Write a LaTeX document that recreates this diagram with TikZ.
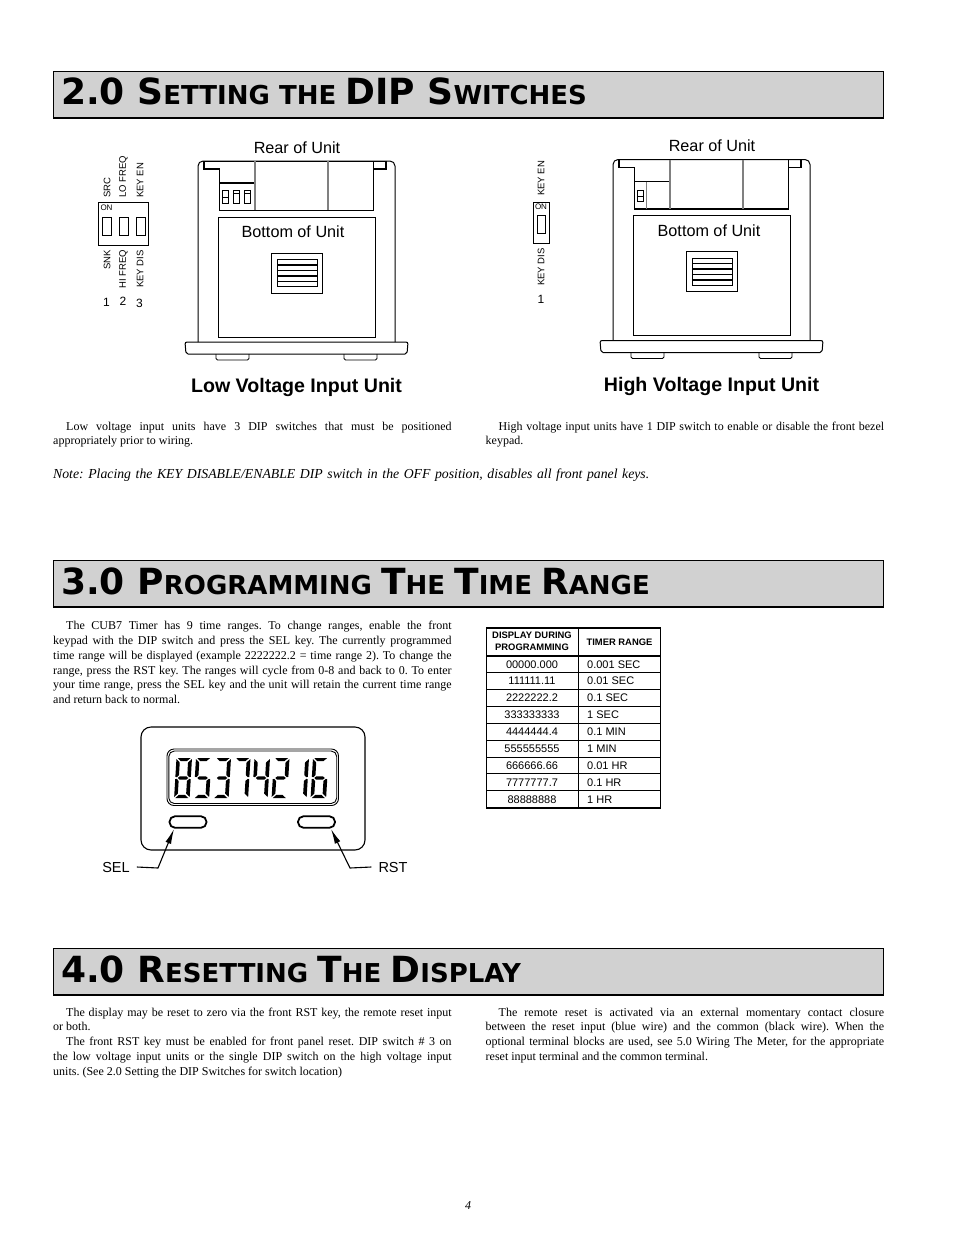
\documentclass[tikz,border=0pt]{standalone}
\usepackage{fontspec}
\setmainfont{Liberation Serif}
\newfontfamily\arialfont{Liberation Sans}
\newfontfamily\headfont{DejaVu Sans}
\usetikzlibrary{arrows.meta}
\definecolor{bargray}{gray}{0.82}
\frenchspacing
\tikzstyle{bodytext}=[anchor=north west,inner sep=0pt,text width=398.5pt,align=justify,font=\fontsize{12}{14.8}\selectfont]
\tikzstyle{headbar}=[draw=black,line width=1.6pt,fill=bargray]
\tikzstyle{headtext}=[anchor=base west,inner sep=0pt,font=\headfont\bfseries]
\tikzstyle{sans}=[inner sep=0pt,font=\arialfont\fontsize{16.2}{18}\selectfont]
\tikzstyle{keylabel}=[inner sep=0pt,font=\arialfont\fontsize{14.5}{16}\selectfont]
\tikzstyle{tiny}=[inner sep=0pt,font=\arialfont\fontsize{9.5}{10}\selectfont]
\tikzstyle{onmark}=[inner sep=0pt,font=\arialfont\fontsize{8}{9}\selectfont]
\tikzstyle{unittitle}=[inner sep=0pt,font=\arialfont\bfseries\fontsize{19.6}{21}\selectfont]
\tikzstyle{cell}=[inner sep=0pt,font=\arialfont\fontsize{11}{12}\selectfont]
\tikzstyle{headcell}=[inner sep=0pt,align=center,font=\arialfont\bfseries\fontsize{9.4}{12}\selectfont]
\tikzstyle{button}=[draw=black,line width=1.8pt,rounded corners=5.5pt,minimum width=37pt,minimum height=11.5pt,inner sep=0pt]
\tikzstyle{pointer}=[draw=black,line width=1.1pt,-{Latex[length=15pt,width=6pt]}]
\newcommand{\bigc}[1]{{\fontsize{36}{36}\selectfont #1}}
\newcommand{\smallc}[1]{{\fontsize{26}{26}\selectfont #1}}
% segments of one display digit
\newcommand{\sega}{(1.8,0) -- (14.7,0) -- (11,3.2) -- (5,3.2) -- cycle}
\newcommand{\segb}{(16,1) -- (16,18.8) -- (14.5,19.2) -- (12.3,17) -- (12.3,4.5) -- cycle}
\newcommand{\segc}{(16,21.2) -- (16,39) -- (12.3,35.5) -- (12.3,23) -- (14.5,20.8) -- cycle}
\newcommand{\segd}{(1.8,40) -- (5,36.8) -- (11,36.8) -- (14.7,40) -- cycle}
\newcommand{\sege}{(0.5,21.2) -- (2,20.8) -- (4,23) -- (4,35.5) -- (0.5,39) -- cycle}
\newcommand{\segf}{(0.5,1) -- (4,4.5) -- (4,17) -- (2,19.2) -- (0.5,18.8) -- cycle}
\newcommand{\segg}{(3,20) -- (5,18.3) -- (11.5,18.3) -- (13.5,20) -- (11.5,21.7) -- (5,21.7) -- cycle}
\begin{document}
\begin{tikzpicture}[x=1pt,y=-1pt]
    \useasboundingbox (0,0) rectangle (954,1235);

    % Section bars
    \foreach \top/\name in {71.5/two,560.5/three,948.5/four}
        \path[headbar] (53.5,\top) rectangle (883.5,\top+46.5);
    \node[headtext] (headtwo) at (61,104) {\bigc{2.0 S}\smallc{ETTING THE }\bigc{DIP S}\smallc{WITCHES}};
    \node[headtext] (headthree) at (61,594) {\bigc{3.0 P}\smallc{ROGRAMMING }\bigc{T}\smallc{HE }\bigc{T}\smallc{IME }\bigc{R}\smallc{ANGE}};
    \node[headtext] (headfour) at (61,982) {\bigc{4.0 R}\smallc{ESETTING }\bigc{T}\smallc{HE }\bigc{D}\smallc{ISPLAY}};

    % Both units, the second is only shifted
    \foreach \ox/\oy/\name in {0/0/low,415/-1.5/high} {
      \begin{scope}[shift={(\ox,\oy)}]
        \draw[line width=1pt,rounded corners=5pt] (198,342) -- (198,161) -- (395,161) -- (395,342);
        \draw[line width=1pt,rounded corners=2pt] (185,342) -- (186,354) -- (407,354) -- (408,342) -- cycle;
        \draw[line width=0.9pt,rounded corners=1.5pt] (216,354) -- (216,360) -- (249,360) -- (249,354);
        \draw[line width=0.9pt,rounded corners=1.5pt] (344,354) -- (344,360) -- (377,360) -- (377,354);
        % rear terminals
        \draw[line width=1.3pt] (204,161) -- (204,169) -- (219.5,169) -- (219.5,210.5) -- (373.5,210.5) -- (373.5,161);
        \draw[line width=1.3pt] (373.5,169) -- (386,169) -- (386,161);
        \draw[line width=0.9pt] (204,161) -- (386,161);
        \draw[line width=1.3pt] (219.5,183) -- (254,183);
        \draw[gray,line width=2pt] (254.5,161) -- (254.5,210);
        \draw[gray,line width=2pt] (328,161) -- (328,210);
        % bottom face and vent
        \draw[line width=1pt] (218,217) rectangle (375,337);
        \draw[line width=1pt] (271,253) rectangle (322,293);
        \draw[line width=1pt] (277,259.5) rectangle (317,286.5);
        \foreach \slat in {265,270.5,276,281.5}
            \draw[line width=1.3pt] (277,\slat) -- (317,\slat);
      \end{scope}
    }
    \node[sans] (rearlow) at (297,148) {Rear of Unit};
    \node[sans] (rearhigh) at (712,146) {Rear of Unit};
    \node[sans] (bottomlow) at (293,231.5) {Bottom of Unit};
    \node[sans] (bottomhigh) at (709,230.5) {Bottom of Unit};
    \node[unittitle] (titlelow) at (296.5,387.5) {Low Voltage Input Unit};
    \node[unittitle] (titlehigh) at (711.5,386.5) {High Voltage Input Unit};

    % Switches seen on the units
    \foreach \sx/\sl in {222/197,233.5/193,244.5/193} {
        \draw[line width=0.8pt] (\sx,190) rectangle (\sx+6,203);
        \draw[line width=0.8pt] (\sx,\sl) -- (\sx+6,\sl);
    }
    \draw[gray,line width=1pt] (646,181.5) -- (646,209);
    \draw[line width=0.8pt] (637,190) rectangle (643,201);
    \draw[line width=0.8pt] (637,196) -- (643,196);

    % DIP switch keys
    \draw[line width=1pt] (98.5,202) rectangle (148.5,245);
    \foreach \sx in {102.5,119.5,136}
        \draw[line width=1pt] (\sx,217) rectangle (\sx+9,235);
    \node[onmark] (onlow) at (106.5,208) {ON};
    \foreach \lx/\upper/\lower/\num/\ny in {107/SRC/SNK/1/302,123.5/LO FREQ/HI FREQ/2/301,140/KEY EN/KEY DIS/3/303} {
        \node[tiny,rotate=90,anchor=west] (up\num) at (\lx,198) {\upper};
        \node[tiny,rotate=90,anchor=east] (dn\num) at (\lx,250) {\lower};
        \node[inner sep=0pt,font=\arialfont\fontsize{12}{13}\selectfont] (num\num) at (\lx-0.5,\ny) {\num};
    }
    \draw[line width=1pt] (533,202) rectangle (549.5,243);
    \draw[line width=1pt] (537,215) rectangle (545,233.5);
    \node[onmark] (onhigh) at (541,207) {ON};
    \node[tiny,rotate=90,anchor=west] (uphigh) at (541,196) {KEY EN};
    \node[tiny,rotate=90,anchor=east] (dnhigh) at (541,248) {KEY DIS};
    \node[inner sep=0pt,font=\arialfont\fontsize{12}{13}\selectfont] (numhigh) at (541,299) {1};

    % Running text
    \node[bodytext] (lowtext) at (53,421.5) {\hspace*{13pt}Low voltage input units have 3 DIP switches that must be positioned\linebreak appropriately prior to wiring.};
    \node[bodytext] (hightext) at (485.5,421.5) {\hspace*{13pt}High voltage input units have 1 DIP switch to enable or disable the front bezel\linebreak keypad.};
    \node[bodytext,text width=700pt,align=left,font=\itshape\fontsize{13.75}{15}\selectfont] (note) at (53,469) {Note: Placing the KEY DISABLE/ENABLE DIP switch in the OFF position, disables all front panel keys.};
    \node[bodytext] (rangetext) at (53,621) {\hspace*{13pt}The CUB7 Timer has 9 time ranges. To change ranges, enable the front\linebreak keypad with the DIP switch and press the SEL key. The currently programmed\linebreak time range will be displayed (example 2222222.2 = time range 2). To change the\linebreak range, press the RST key. The ranges will cycle from 0-8 and back to 0. To enter\linebreak your time range, press the SEL key and the unit will retain the current time range\linebreak and return back to normal.};
    \node[bodytext] (resetleft) at (53,1007.5) {\hspace*{13pt}The display may be reset to zero via the front RST key, the remote reset input\linebreak or both.\par\hspace*{13pt}The front RST key must be enabled for front panel reset. DIP switch \# 3 on\linebreak the low voltage input units or the single DIP switch on the high voltage input\linebreak units. (See 2.0 Setting the DIP Switches for switch location)};
    \node[bodytext] (resetright) at (485.5,1007.5) {\hspace*{13pt}The remote reset is activated via an external momentary contact closure\linebreak between the reset input (blue wire) and the common (black wire). When the\linebreak optional terminal blocks are used, see 5.0 Wiring The Meter, for the appropriate\linebreak reset input terminal and the common terminal.};
    \node[inner sep=0pt,font=\itshape\fontsize{12}{14}\selectfont] (pagenum) at (468,1205.5) {4};

    % Range table
    \draw[line width=1.1pt] (486.5,628) rectangle (660.5,808);
    \draw[line width=1.5pt] (486,628) -- (661,628);
    \draw[line width=1.5pt] (486,656) -- (661,656);
    \draw[line width=1.2pt] (486,672.5) -- (661,672.5);
    \draw[line width=0.8pt] (578,628) -- (578,808);
    \foreach \liney in {689.5,706.5,723,740,757,773.5,790.5}
        \draw[line width=0.7pt] (486,\liney) -- (661,\liney);
    \node[headcell] (headdisplay) at (532,641.5) {DISPLAY DURING\\PROGRAMMING};
    \node[headcell] (headrange) at (619.5,642) {TIMER RANGE};
    \foreach \rowy/\shown/\range in {664.5/00000.000/0.001 SEC,681/111111.11/0.01 SEC,698/2222222.2/0.1 SEC,715/333333333/1 SEC,732/4444444.4/0.1 MIN,749/555555555/1 MIN,765.5/666666.66/0.01 HR,782.5/7777777.7/0.1 HR,799.5/88888888/1 HR} {
        \node[cell] (shown\rowy) at (532,\rowy) {\shown};
        \node[cell,anchor=west] (range\rowy) at (587,\rowy) {\range};
    }

    % Front panel
    \draw[line width=1.1pt,rounded corners=10pt] (141,727) rectangle (365,850);
    \draw[line width=0.9pt,rounded corners=7pt] (167,749) rectangle (338.5,805.5);
    \draw[line width=0.9pt,rounded corners=5.5pt] (168.8,751) rectangle (336.7,803.5);
    \foreach \px/\segs in {176/{a,b,c,d,e,f,g},195.5/{a,f,g,c,d},215/{a,b,g,c,d},234.5/{a,b,c},254/{f,g,b,c},273.5/{a,b,g,e,d},293/{b,c},312.5/{a,f,g,e,c,d}} {
      \begin{scope}[shift={(\px,758)},xslant=0.06]
        \foreach \s in \segs
            \fill[black] \csname seg\s\endcsname;
      \end{scope}
    }
    \node[button] (selkey) at (188,822) {};
    \node[button] (rstkey) at (316.5,822) {};
    \node[keylabel] (sellabel) at (116,867) {SEL};
    \node[keylabel] (rstlabel) at (393,867) {RST};
    \coordinate (selknee) at (158,868);
    \coordinate (rstknee) at (350,868);
    \draw[pointer] (sellabel.east)++(7,0) -- (selknee) -- (174,829);
    \draw[pointer] (rstlabel.west)++(-7,0) -- (rstknee) -- (331,829);
\end{tikzpicture}
\end{document}
